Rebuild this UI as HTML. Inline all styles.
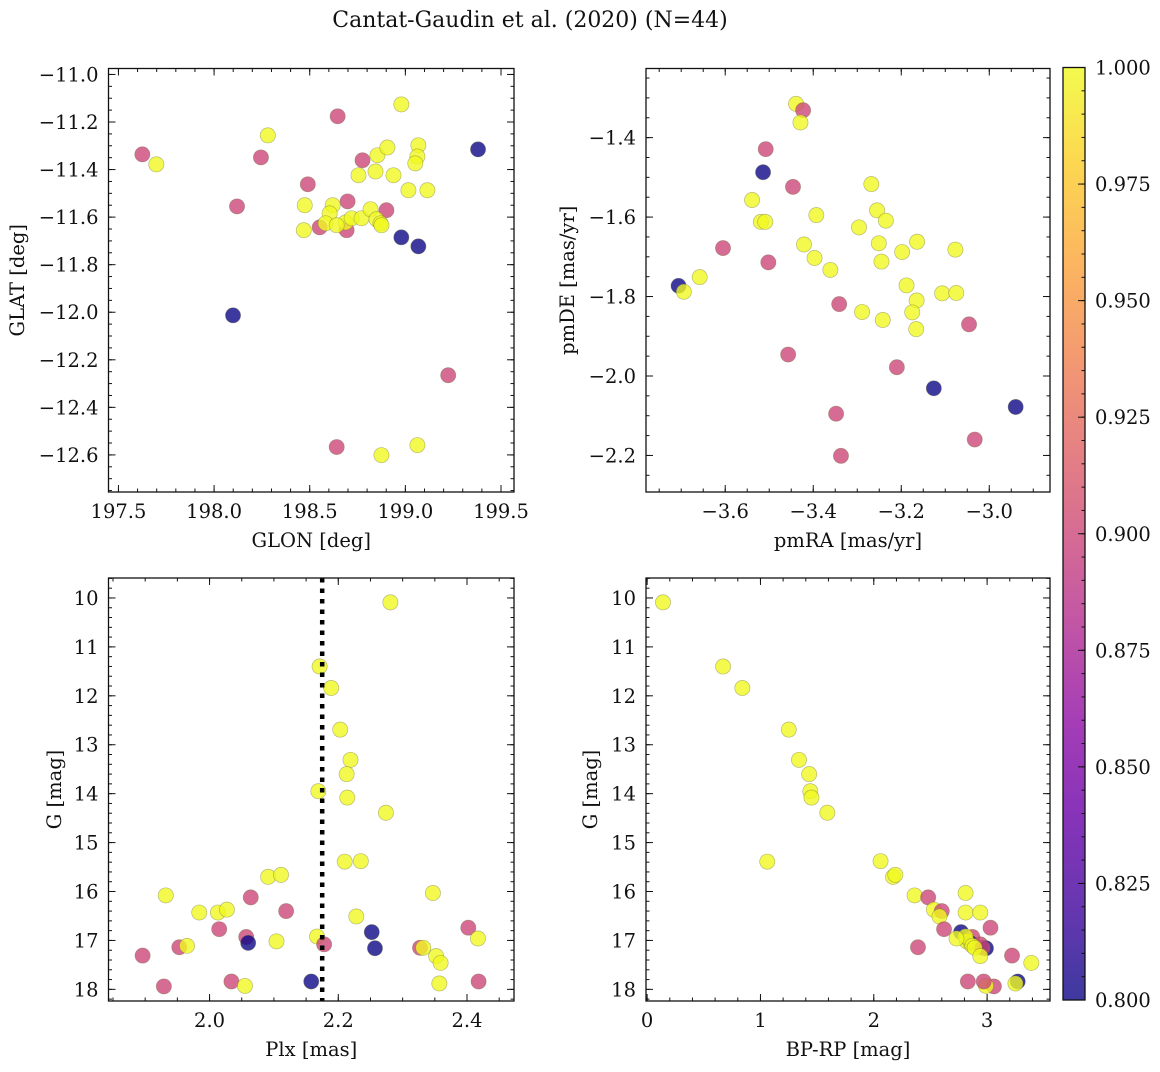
<!DOCTYPE html>
<html><head><meta charset="utf-8"><style>
html,body{margin:0;padding:0;background:#fff;}
svg text{font-family:"DejaVu Serif","Liberation Serif",serif;fill:#111;}
</style></head><body>
<svg id="fig" width="1160" height="1067" viewBox="0 0 1160 1067" xmlns="http://www.w3.org/2000/svg">
<defs>
<linearGradient id="plasma" x1="0" y1="1" x2="0" y2="0">
<stop offset="0" stop-color="#0d0887"/><stop offset="0.1" stop-color="#41049d"/><stop offset="0.2" stop-color="#6a00a8"/><stop offset="0.3" stop-color="#8f0da4"/><stop offset="0.4" stop-color="#b12a90"/><stop offset="0.5" stop-color="#cc4778"/><stop offset="0.6" stop-color="#e16462"/><stop offset="0.7" stop-color="#f2844b"/><stop offset="0.8" stop-color="#fca636"/><stop offset="0.9" stop-color="#fcce25"/><stop offset="1" stop-color="#f0f921"/>
</linearGradient>
</defs>
<text x="530" y="27" text-anchor="middle" font-size="22">Cantat-Gaudin et al. (2020) (N=44)</text>
</svg>
<script>
// Panel 1: galactic coordinates
const glon=[197.625,198.245,198.120,198.646,198.776,198.490,198.698,198.901,198.552,198.693,199.224,198.641,
198.099,198.979,199.068,199.380,
198.281,197.698,198.979,198.844,198.854,198.906,198.755,198.938,199.016,199.115,199.068,199.063,199.052,198.474,198.469,198.620,198.604,198.583,198.688,198.641,198.719,198.771,198.818,198.849,198.870,198.875,199.063,198.875];
const glat=[-11.336,-11.349,-11.555,-11.176,-11.361,-11.462,-11.534,-11.571,-11.643,-11.655,-12.265,-12.567,
-12.013,-11.685,-11.723,-11.315,
-11.256,-11.378,-11.126,-11.408,-11.340,-11.307,-11.424,-11.424,-11.487,-11.487,-11.298,-11.345,-11.374,-11.550,-11.655,-11.550,-11.584,-11.626,-11.622,-11.634,-11.605,-11.605,-11.567,-11.609,-11.626,-11.634,-12.559,-12.601];
const probPos=[0.9,0.9,0.9,0.9,0.9,0.9,0.9,0.9,0.9,0.9,0.9,0.9,0.8,0.8,0.8,0.8,
1,1,1,1,1,1,1,1,1,1,1,1,1,1,1,1,1,1,1,1,1,1,1,1,1,1,1,1];
// Panel 2: proper motions
const pmra=[-3.439,-3.423,-3.429,-3.508,-3.514,-3.446,-3.539,-3.519,-3.509,-3.393,-3.268,-3.255,-3.235,-3.296,-3.251,-3.164,-3.198,-3.077,-3.245,-3.421,-3.397,-3.361,-3.605,-3.502,-3.658,-3.706,-3.694,-3.188,-3.165,-3.107,-3.075,-3.175,-3.166,-3.289,-3.242,-3.341,-3.046,-3.457,-3.210,-3.126,-2.940,-3.348,-3.033,-3.337];
const pmde=[-1.315,-1.331,-1.362,-1.429,-1.487,-1.524,-1.557,-1.612,-1.612,-1.595,-1.517,-1.583,-1.609,-1.626,-1.666,-1.662,-1.688,-1.682,-1.712,-1.669,-1.703,-1.733,-1.678,-1.714,-1.751,-1.773,-1.788,-1.772,-1.810,-1.792,-1.791,-1.840,-1.882,-1.839,-1.859,-1.819,-1.870,-1.946,-1.978,-2.031,-2.078,-2.095,-2.160,-2.201];
const probPm=[1,0.9,1,0.9,0.8,0.9,1,1,1,1,1,1,1,1,1,1,1,1,1,1,1,1,0.9,0.9,1,0.8,1,1,1,1,1,1,1,1,1,0.9,0.9,0.9,0.9,0.8,0.8,0.9,0.9,0.9];
// Panels 3 & 4: photometry
const plx=[2.281,2.171,2.189,2.203,2.219,2.213,2.169,2.214,2.274,2.210,2.235,2.091,2.111,2.347,1.932,2.064,1.984,2.013,2.027,2.119,2.228,2.402,2.252,2.015,2.057,2.060,2.104,2.167,2.178,2.417,1.953,1.965,2.257,2.327,2.332,2.352,2.359,1.896,1.929,2.034,2.055,2.158,2.357,2.418];
const gmag=[10.09,11.40,11.84,12.69,13.31,13.60,13.95,14.08,14.39,15.39,15.38,15.70,15.66,16.03,16.08,16.12,16.43,16.43,16.37,16.40,16.51,16.74,16.83,16.77,16.93,17.05,17.02,16.92,17.08,16.96,17.14,17.11,17.16,17.15,17.15,17.32,17.46,17.31,17.94,17.84,17.93,17.84,17.88,17.84];
const bprp=[0.14,0.67,0.84,1.25,1.34,1.43,1.44,1.45,1.59,1.06,2.06,2.17,2.19,2.81,2.36,2.48,2.81,2.94,2.53,2.60,2.58,3.03,2.77,2.62,2.87,2.85,2.82,2.81,2.94,2.73,2.39,2.87,2.99,2.96,2.89,2.94,3.39,3.22,3.06,2.83,2.99,3.27,3.25,2.97];
const probPhot=[1,1,1,1,1,1,1,1,1,1,1,1,1,1,1,0.9,1,1,1,0.9,1,0.9,0.8,0.9,0.9,0.8,1,1,0.9,1,0.9,1,0.8,0.9,1,1,1,0.9,0.9,0.9,1,0.8,1,0.9];
const plxMean=2.175;
const cbarTicks=[0.800,0.825,0.850,0.875,0.900,0.925,0.950,0.975,1.000];

const NS="http://www.w3.org/2000/svg";
const svg=document.getElementById('fig');
const FS=19.5;
function el(tag,attrs,parent){const e=document.createElementNS(NS,tag);for(const k in attrs)e.setAttribute(k,attrs[k]);(parent||svg).appendChild(e);return e;}
const stops=[[13,8,135],[65,4,157],[106,0,168],[143,13,164],[177,42,144],[204,71,120],[225,100,98],[242,132,75],[252,166,54],[252,206,37],[240,249,33]];
function plasma(v){let t=(v-0.8)/0.2;t=Math.max(0,Math.min(1,t));const f=t*10;const i=Math.min(9,Math.floor(f));const r=f-i;const a=stops[i],b=stops[i+1];return 'rgb('+[0,1,2].map(k=>Math.round(a[k]+(b[k]-a[k])*r)).join(',')+')';}
function fmt(v,d){const s=Math.abs(v).toFixed(d);return (v<-1e-9?'\u2212':'')+s;}

function panel(o){
  const g=el('g',{});
  
  
  const sx=v=>o.x0+(v-o.xmin)/(o.xmax-o.xmin)*(o.x1-o.x0);
  const sy=o.yinv? v=>o.y0+(v-o.ymin)/(o.ymax-o.ymin)*(o.y1-o.y0) : v=>o.y1-(v-o.ymin)/(o.ymax-o.ymin)*(o.y1-o.y0);
  const mg=el('g',{},g);
  
  
  for(let i=0;i<o.xs.length;i++){
    const c=el('circle',{cx:sx(o.xs[i]),cy:sy(o.ys[i]),r:7.6,fill:plasma(o.ps[i]),'fill-opacity':0.8,stroke:'#6a6a3a','stroke-opacity':0.45,'stroke-width':0.7},mg);
    
    
  }
  if(o.vline!==undefined){
    const l=el('line',{x1:sx(o.vline),x2:sx(o.vline),y1:o.y0,y2:o.y1,stroke:'#000','stroke-width':4.5,'stroke-dasharray':'4.5 6'},g);
    
    
  }
  const tg=el('g',{stroke:'#111','stroke-width':1},g);
  const eps=1e-9;
  const lo=Math.min(o.xmin,o.xmax),hi=Math.max(o.xmin,o.xmax);
  for(let v=Math.ceil(lo/o.xminor-eps)*o.xminor;v<=hi+eps;v+=o.xminor){const x=sx(v);el('line',{x1:x,x2:x,y1:o.y1,y2:o.y1-3.5},tg);el('line',{x1:x,x2:x,y1:o.y0,y2:o.y0+3.5},tg);}
  const ylo=Math.min(o.ymin,o.ymax),yhi=Math.max(o.ymin,o.ymax);
  for(let v=Math.ceil(ylo/o.yminor-eps)*o.yminor;v<=yhi+eps;v+=o.yminor){const y=sy(v);el('line',{x1:o.x0,x2:o.x0+3.5,y1:y,y2:y},tg);el('line',{x1:o.x1,x2:o.x1-3.5,y1:y,y2:y},tg);}
  o.xt.forEach(v=>{const x=sx(v);el('line',{x1:x,x2:x,y1:o.y1,y2:o.y1-7},tg);el('line',{x1:x,x2:x,y1:o.y0,y2:o.y0+7},tg);
    const t=el('text',{x:x,y:o.y1+26,'text-anchor':'middle','font-size':FS},g);t.textContent=fmt(v,o.xd);
    
    });
  o.yt.forEach(v=>{const y=sy(v);el('line',{x1:o.x0,x2:o.x0+7,y1:y,y2:y},tg);el('line',{x1:o.x1,x2:o.x1-7,y1:y,y2:y},tg);
    const t=el('text',{x:o.x0-10,y:y+7,'text-anchor':'end','font-size':FS},g);t.textContent=fmt(v,o.yd);
    
    });
  const fr=el('rect',{x:o.x0,y:o.y0,width:o.x1-o.x0,height:o.y1-o.y0,fill:'none',stroke:'#111','stroke-width':1.3},g);
  
  
  const xl=el('text',{x:(o.x0+o.x1)/2,y:o.y1+55,'text-anchor':'middle','font-size':FS},g);xl.textContent=o.xlabel;
  
  
  const cy=(o.y0+o.y1)/2;
  const yl=el('text',{x:o.ylx,y:cy,'text-anchor':'middle','font-size':FS,transform:'rotate(-90 '+o.ylx+' '+cy+')'},g);yl.textContent=o.ylabel;
  
  
}

panel({name:'glon-glat-panel',x0:108.5,x1:514,y0:68.5,y1:492,xmin:197.448,xmax:199.568,ymin:-12.756,ymax:-10.975,
  xs:glon,ys:glat,ps:probPos,xt:[197.5,198,198.5,199,199.5],xd:1,xminor:0.1,yt:[-11,-11.2,-11.4,-11.6,-11.8,-12,-12.2,-12.4,-12.6],yd:1,yminor:0.05,
  xlabel:'GLON [deg]',ylabel:'GLAT [deg]',ylx:24});
panel({name:'proper-motion-panel',x0:646,x1:1050,y0:68.5,y1:492,xmin:-3.780,xmax:-2.862,ymin:-2.292,ymax:-1.226,
  xs:pmra,ys:pmde,ps:probPm,xt:[-3.6,-3.4,-3.2,-3.0],xd:1,xminor:0.05,yt:[-1.4,-1.6,-1.8,-2.0,-2.2],yd:1,yminor:0.05,
  xlabel:'pmRA [mas/yr]',ylabel:'pmDE [mas/yr]',ylx:574});
panel({name:'parallax-magnitude-panel',x0:108.5,x1:514,y0:578,y1:1001,xmin:1.843,xmax:2.473,ymin:9.592,ymax:18.238,yinv:true,
  xs:plx,ys:gmag,ps:probPhot,xt:[2.0,2.2,2.4],xd:1,xminor:0.05,yt:[10,11,12,13,14,15,16,17,18],yd:0,yminor:0.2,
  xlabel:'Plx [mas]',ylabel:'G [mag]',ylx:61,vline:plxMean});
panel({name:'color-magnitude-panel',x0:646,x1:1050,y0:578,y1:1001,xmin:-0.01,xmax:3.555,ymin:9.592,ymax:18.238,yinv:true,
  xs:bprp,ys:gmag,ps:probPhot,xt:[0,1,2,3],xd:0,xminor:0.2,yt:[10,11,12,13,14,15,16,17,18],yd:0,yminor:0.2,
  xlabel:'BP-RP [mag]',ylabel:'G [mag]',ylx:597});

const cb=el('g',{});


const cbx0=1063,cbx1=1085,cby0=67.5,cby1=1000;
const cbs=v=>cby1-(v-0.8)/0.2*(cby1-cby0);
el('rect',{x:cbx0,y:cby0,width:cbx1-cbx0,height:cby1-cby0,fill:'url(#plasma)','fill-opacity':0.8},cb);
for(let v=0.8;v<=1.0001;v+=0.005){const y=cbs(v);el('line',{x1:cbx1,x2:cbx1-3.5,y1:y,y2:y,stroke:'#111','stroke-width':1},cb);}
cbarTicks.forEach(v=>{const y=cbs(v);el('line',{x1:cbx1,x2:cbx1-7,y1:y,y2:y,stroke:'#111','stroke-width':1},cb);
  const t=el('text',{x:1095,y:y+7,'font-size':FS},cb);t.textContent=v.toFixed(3);
  
  });
el('rect',{x:cbx0,y:cby0,width:cbx1-cbx0,height:cby1-cby0,fill:'none',stroke:'#111','stroke-width':1.3},cb);
</script>
</body></html>
